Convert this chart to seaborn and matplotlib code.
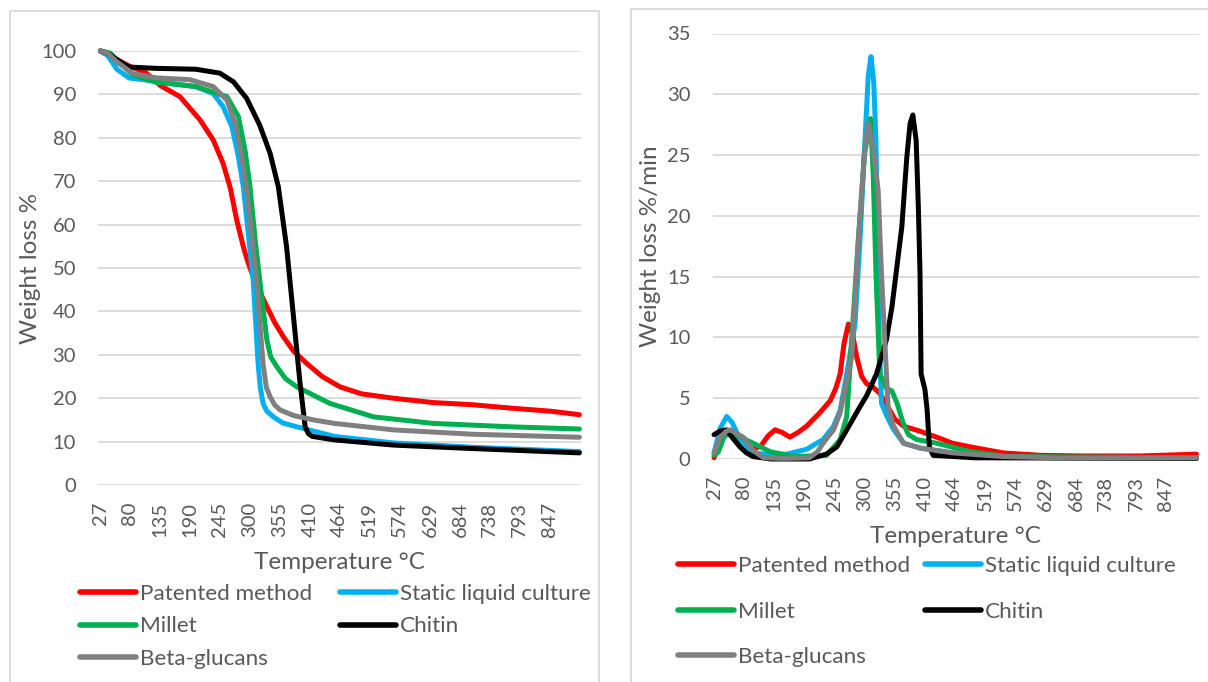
import numpy as np
import pandas as pd
import matplotlib
matplotlib.use("Agg")
import matplotlib.pyplot as plt
import seaborn as sns
from matplotlib.patches import Rectangle

# ---------------- data ----------------
series_names = ["Patented method", "Static liquid culture", "Millet", "Chitin", "Beta-glucans"]
colors = ["#ff0000", "#00b0f0", "#00b050", "#000000", "#808080"]
x_ticks = [27, 80, 135, 190, 245, 300, 355, 410, 464, 519, 574, 629, 684, 738, 793, 847]

# TGA (weight loss %)
tga_pat_T = [27, 50, 80, 110, 137, 172, 209, 233, 251, 264, 276, 288, 296, 306, 318, 331, 345, 361, 380, 404, 432, 465, 504, 562, 634, 706, 778, 850, 902]
tga_pat_y = [100, 98.5, 96.5, 95, 92, 89.5, 84.1, 79.5, 74.1, 68.5, 61, 54.9, 51.5, 48, 44.5, 41.1, 37.5, 34.2, 30.8, 28, 25, 22.6, 21, 20, 19, 18.5, 17.7, 17.0, 16.2]

tga_sta_T = [27, 40, 57, 79, 129, 201, 233, 251, 267, 279, 288, 297, 306, 315, 319, 324, 331, 343, 360, 386, 454, 562, 706, 902]
tga_sta_y = [100, 99, 95.8, 93.8, 93, 91.8, 90.2, 87.2, 82.6, 75.6, 68.7, 58, 47.2, 28, 22.5, 18.8, 17.0, 15.7, 14.3, 13.4, 11.2, 9.7, 8.7, 7.7]

tga_mil_T = [27, 45, 60, 86, 129, 201, 258, 279, 291, 300, 310, 318, 331, 338, 349, 365, 386, 446, 526, 634, 778, 902]
tga_mil_y = [100, 99.5, 97.5, 94.5, 92.8, 91.8, 89.5, 84.9, 77.2, 69, 56, 47.2, 33.4, 29.5, 27.3, 24.5, 22.6, 18.8, 15.7, 14.2, 13.4, 12.9]

tga_chi_T = [27, 40, 57, 79, 129, 201, 245, 270, 294, 318, 337, 352, 367, 379, 391, 401, 407, 414, 454, 562, 706, 902]
tga_chi_y = [100, 99.5, 98, 96.3, 96, 95.8, 94.9, 92.9, 89.1, 82.9, 76.4, 68.7, 54.9, 39.6, 24.2, 13.4, 11.8, 11.2, 10.4, 9.2, 8.4, 7.4]

tga_bet_T = [27, 40, 57, 86, 129, 190, 233, 258, 273, 285, 294, 312, 324, 330, 337, 345, 355, 380, 416, 454, 562, 706, 902]
tga_bet_y = [100, 99.5, 97.5, 94.8, 93.8, 93.4, 91.8, 88.7, 83.3, 75.6, 68, 47.2, 28, 22.5, 20.3, 18.5, 17.3, 16.0, 15, 14.2, 12.7, 11.7, 11.0]

# DTG (weight loss %/min)
dtg_pat_T = [27, 35, 45, 55, 70, 90, 111, 125, 138, 150, 165, 180, 195, 219, 238, 248, 256, 263, 271, 278, 286, 295, 304, 316, 328, 340, 355, 371, 400, 431, 460, 492, 552, 620, 700, 800, 870, 903]
dtg_pat_y = [0.1, 1.0, 2.0, 2.2, 1.6, 0.8, 1.0, 1.9, 2.4, 2.2, 1.8, 2.2, 2.7, 3.8, 4.8, 5.8, 7.0, 9.5, 11.1, 10.4, 8.4, 6.8, 6.2, 5.9, 5.4, 4.5, 3.3, 2.7, 2.3, 1.8, 1.3, 1.0, 0.5, 0.3, 0.25, 0.25, 0.35, 0.4]

dtg_sta_T = [27, 38, 50, 60, 72, 85, 98, 120, 159, 195, 225, 244, 256, 268, 283, 292, 301, 307, 312, 317, 321, 324, 327, 331, 340, 352, 371, 401, 461, 552, 650, 903]
dtg_sta_y = [0.5, 2.5, 3.5, 3.0, 1.8, 1.0, 0.5, 0.4, 0.4, 0.8, 1.6, 2.7, 4.0, 7.0, 11.1, 18.0, 26.2, 31.5, 33.1, 31.0, 26.2, 18.0, 9.8, 4.6, 3.6, 2.5, 1.3, 0.9, 0.5, 0.2, 0.1, 0.1]

dtg_mil_T = [27, 35, 45, 56, 75, 98, 129, 171, 231, 256, 268, 277, 289, 300, 311, 316, 321, 328, 340, 350, 360, 370, 380, 395, 431, 492, 560, 903]
dtg_mil_y = [0.3, 0.6, 1.8, 2.2, 1.8, 1.3, 0.6, 0.2, 0.3, 1.6, 3.5, 9.8, 18.0, 25.0, 28.0, 23.5, 15.3, 7.0, 5.8, 5.6, 4.5, 3.0, 2.0, 1.6, 1.3, 0.6, 0.2, 0.1]

dtg_chi_T = [27, 38, 50, 56, 65, 74, 86, 98, 130, 200, 231, 250, 268, 292, 304, 322, 340, 350, 359, 368, 377, 383, 388, 394, 398, 401, 403, 410, 414, 418, 425, 500, 903]
dtg_chi_y = [2.0, 2.3, 2.4, 2.0, 1.5, 1.0, 0.5, 0.2, 0.0, 0.0, 0.4, 1.0, 2.4, 4.3, 5.2, 7.0, 9.8, 12.5, 15.8, 19.1, 24.8, 27.6, 28.3, 26.2, 20.7, 15.3, 7.0, 5.7, 4.0, 1.0, 0.3, 0.1, 0.05]

dtg_bet_T = [27, 38, 50, 56, 68, 80, 98, 117, 150, 200, 215, 225, 244, 256, 266, 277, 289, 300, 307, 316, 325, 331, 337, 343, 352, 371, 401, 461, 552, 650, 903]
dtg_bet_y = [0.5, 1.8, 2.3, 2.4, 2.1, 1.8, 0.7, 0.1, 0.05, 0.1, 0.6, 1.3, 2.4, 3.8, 6.0, 8.4, 18.0, 25.0, 27.6, 25.5, 22.1, 15.3, 9.8, 4.3, 2.8, 1.3, 0.9, 0.5, 0.2, 0.1, 0.1]

tga = [(tga_pat_T, tga_pat_y), (tga_sta_T, tga_sta_y), (tga_mil_T, tga_mil_y), (tga_chi_T, tga_chi_y), (tga_bet_T, tga_bet_y)]
dtg = [(dtg_pat_T, dtg_pat_y), (dtg_sta_T, dtg_sta_y), (dtg_mil_T, dtg_mil_y), (dtg_chi_T, dtg_chi_y), (dtg_bet_T, dtg_bet_y)]


def to_frame(pairs):
    rows = []
    for name, (t, y) in zip(series_names, pairs):
        for ti, yi in zip(t, y):
            rows.append({"T": ti, "v": yi, "series": name})
    return pd.DataFrame(rows)


df_tga = to_frame(tga)
df_dtg = to_frame(dtg)

# ---------------- style ----------------
sns.set_theme(style="white")
plt.rcParams["font.family"] = ["Lato", "DejaVu Sans"]
grey_txt = "#595959"

fig = plt.figure(figsize=(12.08, 6.82), dpi=100)
W, H = 1208, 682

# panel frames
fig.patches.append(Rectangle((10 / W, -5 / H), 589 / W, (682 - 11 + 5) / H, transform=fig.transFigure,
                             fill=False, edgecolor="#d9d9d9", linewidth=1.3, zorder=0))
fig.patches.append(Rectangle((631 / W, -5 / H), 600 / W, (682 - 9 + 5) / H, transform=fig.transFigure,
                             fill=False, edgecolor="#d9d9d9", linewidth=1.3, zorder=0))

ax1 = fig.add_axes([98.3 / W, 1 - 485 / H, 482.7 / W, 434 / H])
ax2 = fig.add_axes([712.7 / W, 1 - 459 / H, 486 / W, 425.5 / H])

palette = dict(zip(series_names, colors))

for ax, df, ylim, yticks, ylabel, xlim in [
    (ax1, df_tga, (0, 100), np.arange(0, 101, 10), "Weight loss %", (23, 905)),
    (ax2, df_dtg, (0, 35), np.arange(0, 36, 5), "Weight loss %/min", (24.6, 907)),
]:
    sns.lineplot(data=df, x="T", y="v", hue="series", palette=palette, hue_order=series_names,
                 estimator=None, sort=False, linewidth=3.6, legend=False, ax=ax,
                 solid_capstyle="round", solid_joinstyle="round")
    for ln in ax.get_lines():
        ln.set_clip_on(False)
    ax.set_xlim(*xlim)
    ax.set_ylim(*ylim)
    ax.set_yticks(yticks)
    ax.set_xticks(x_ticks)
    ax.set_xticklabels([str(t) for t in x_ticks], rotation=90)
    ax.tick_params(axis="y", labelsize=14.5, colors=grey_txt, length=0, pad=16)
    ax.tick_params(axis="x", labelsize=14.5, colors=grey_txt, length=0, pad=12)
    ax.grid(axis="y", color="#d9d9d9", linewidth=1.3)
    ax.grid(axis="x", visible=False)
    ax.set_axisbelow(True)
    for s in ax.spines.values():
        s.set_visible(False)
    ax.set_ylabel(ylabel, fontsize=17.5, color=grey_txt)
    ax.set_xlabel("Temperature °C", fontsize=17.5, color=grey_txt, va="center")
    ax.patch.set_alpha(0)

ax1.yaxis.set_label_coords(-0.119, 0.5)
ax2.yaxis.set_label_coords(-0.106, 0.5)
ax1.xaxis.set_label_coords(0.5, -0.1797)
ax2.xaxis.set_label_coords(0.5, -0.1826)

# legends (row-wise order)
order = [0, 2, 4, 1, 3]
for anchor, spacing, colsp in [((80 / W, 1 - 584 / H), 0.55, 1.25), ((678 / W, 1 - 556 / H), 1.14, 0.68)]:
    handles = [plt.Line2D([], [], color=colors[i], linewidth=4.0, solid_capstyle="round") for i in order]
    labels = [series_names[i] for i in order]
    leg = fig.legend(handles, labels, loc="upper left", bbox_to_anchor=anchor, ncol=2,
                     frameon=False, fontsize=16.2, handlelength=2.48, handletextpad=0.18,
                     columnspacing=colsp, labelspacing=spacing, borderaxespad=0, borderpad=0)
    for t in leg.get_texts():
        t.set_color(grey_txt)

fig.savefig("out.png", dpi=100, facecolor="white")
